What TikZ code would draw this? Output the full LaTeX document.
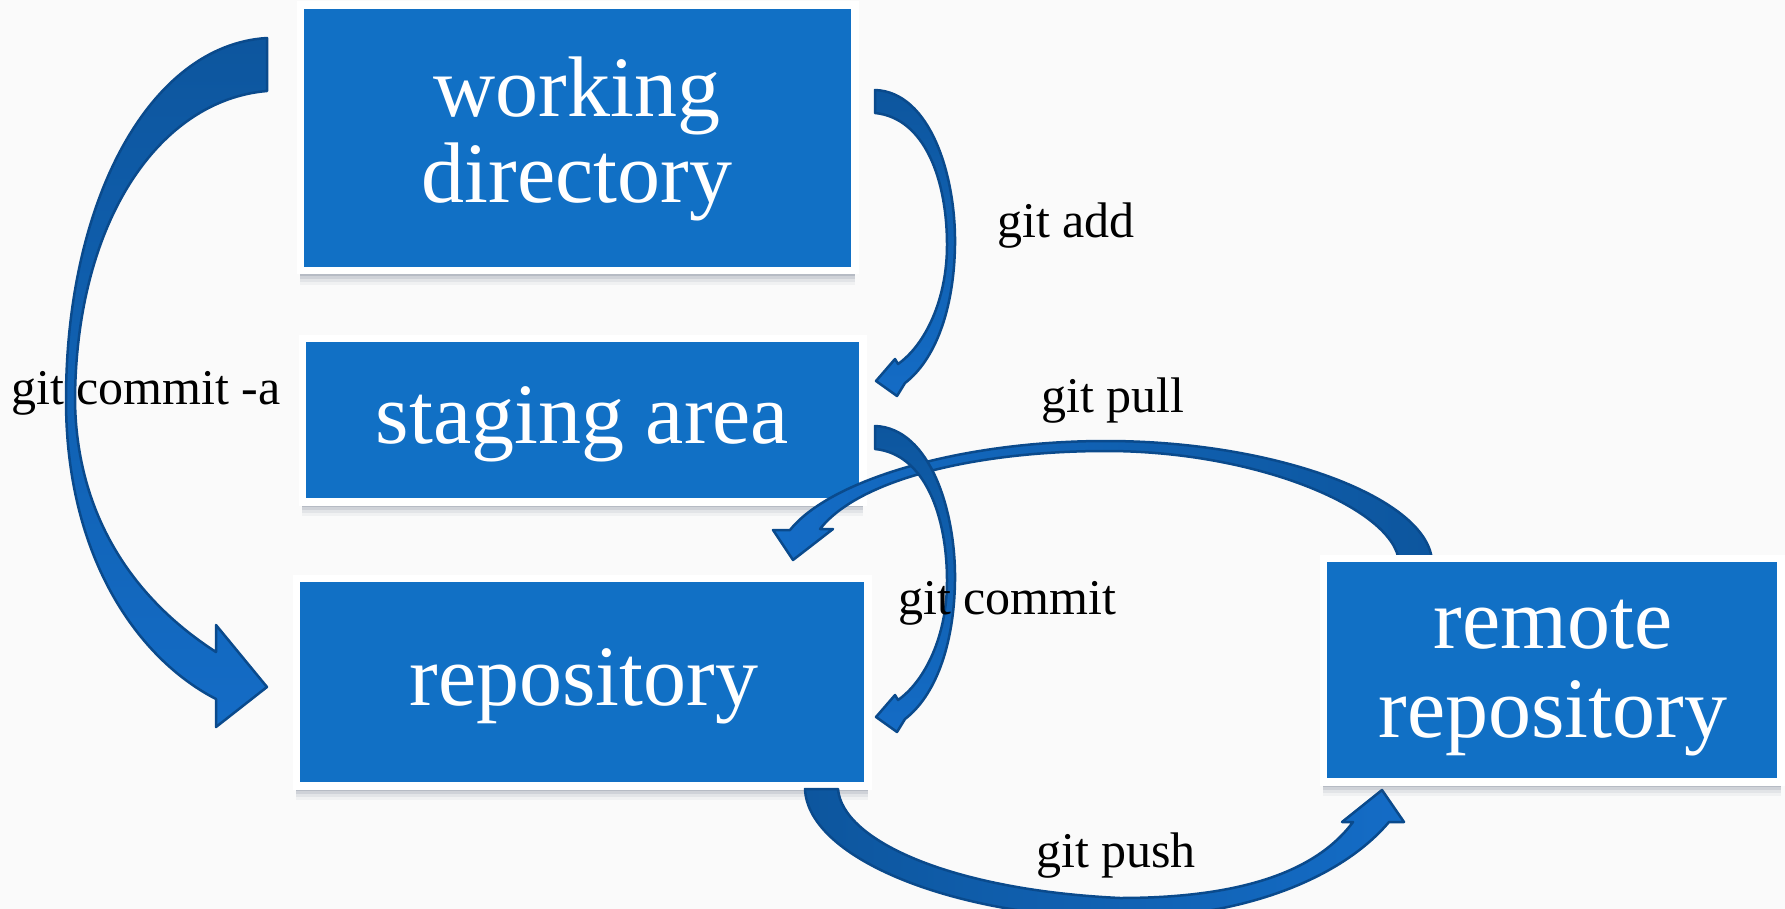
\documentclass[tikz,border=0pt]{standalone}
\usepackage{fontspec}
\setmainfont{Liberation Serif}
\usetikzlibrary{shadows}
\definecolor{boxblue}{RGB}{17,112,197}
\definecolor{arrdark}{RGB}{13,86,158}
\definecolor{arrlight}{RGB}{20,108,198}
\definecolor{arrline}{RGB}{10,74,140}
\definecolor{bgcol}{RGB}{250,250,250}
\definecolor{shadowcol}{RGB}{70,85,110}
\begin{document}
\begin{tikzpicture}[x=1pt,y=-1pt,
  box/.style={draw=white, line width=7.5pt, fill=boxblue, inner sep=0pt, rectangle,
    drop shadow={shadow xshift=0pt, shadow yshift=-14pt, opacity=0.05, fill=shadowcol},
    drop shadow={shadow xshift=0pt, shadow yshift=-11pt, opacity=0.08, fill=shadowcol},
    drop shadow={shadow xshift=0pt, shadow yshift=-8pt, opacity=0.12, fill=shadowcol},
    drop shadow={shadow xshift=0pt, shadow yshift=-5pt, opacity=0.18, fill=shadowcol}},
  boxtext/.style={text=white, font=\fontsize{86}{86}\selectfont, inner sep=0pt, anchor=base},
  lbl/.style={text=black, font=\fontsize{50}{50}\selectfont, inner sep=0pt, anchor=base west},
  arrowshape/.style={draw=arrline, line width=2.5pt, line join=round},
]
\useasboundingbox (0,0) rectangle (1785,909);
\fill[bgcol] (0,0) rectangle (1785,909);

% boxes
\node[box, minimum width=554.5pt, minimum height=265.5pt] (wd) at (577.5,138) {};
\node[box, minimum width=560.5pt, minimum height=163.5pt] (sa) at (582.5,420) {};
\node[box, minimum width=571.5pt, minimum height=207.5pt] (repo) at (582,682) {};

% git pull arrow (remote -> repository)
\path[arrowshape, left color=arrlight, right color=arrdark]
  (1432,562) .. controls (1430,500) and (1280,441) .. (1106,441)
  .. controls (960,441) and (830,480) .. (790,530)
  -- (773,530) -- (793,560) -- (833,529) -- (820,529)
  .. controls (860,478) and (980,451) .. (1106,451)
  .. controls (1260,451) and (1395,510) .. (1399,562) -- cycle;

% git add / git commit arrows (same shape)
\foreach \dy in {0,336}{
\begin{scope}[shift={(0,\dy)}]
\path[arrowshape, top color=arrdark, bottom color=arrlight]
  (875,90) .. controls (930,92) and (956,175) .. (955,245)
  .. controls (954,310) and (935,360) .. (905,383)
  -- (897,396) -- (876,381) -- (895,359) -- (898,364)
  .. controls (925,345) and (947,300) .. (947,245)
  .. controls (947,180) and (925,118) .. (875,113) -- cycle;
\end{scope}
}

% git commit -a arrow
\path[arrowshape, top color=arrdark, bottom color=arrlight]
  (267,38) .. controls (150,45) and (66,200) .. (66,400)
  .. controls (66,560) and (140,660) .. (216,699)
  -- (216,727) -- (267,687) -- (216,625) -- (216,652)
  .. controls (120,590) and (76,500) .. (75,400)
  .. controls (76,220) and (160,100) .. (267,91) -- cycle;

% git push arrow
\path[arrowshape, left color=arrdark, right color=arrlight]
  (805,789) .. controls (808,860) and (960,918) .. (1120,918)
  .. controls (1240,918) and (1340,880) .. (1389,822)
  -- (1404,822) -- (1382,790) -- (1342,822) -- (1353,822)
  .. controls (1310,880) and (1220,898) .. (1120,898)
  .. controls (950,890) and (842,840) .. (838,789) -- cycle;

\node[box, minimum width=457.5pt, minimum height=223.5pt] (remote) at (1552,670) {};

% box texts
\node[boxtext] (wdt1) at (577,117) {working};
\node[boxtext] (wdt2) at (577,203) {directory};
\node[boxtext] (sat) at (582.5,443) {staging area};
\node[boxtext] (repot) at (584,705) {repository};
\node[boxtext] (remt1) at (1553,648) {remote};
\node[boxtext] (remt2) at (1553,737) {repository};

% labels
\node[lbl] (ladd) at (997,238) {git add};
\node[lbl] (lcommita) at (11,404) {git commit -a};
\node[lbl] (lpull) at (1041,412) {git pull};
\node[lbl] (lcommit) at (898,614) {git commit};
\node[lbl] (lpush) at (1036,867) {git push};
\end{tikzpicture}
\end{document}
